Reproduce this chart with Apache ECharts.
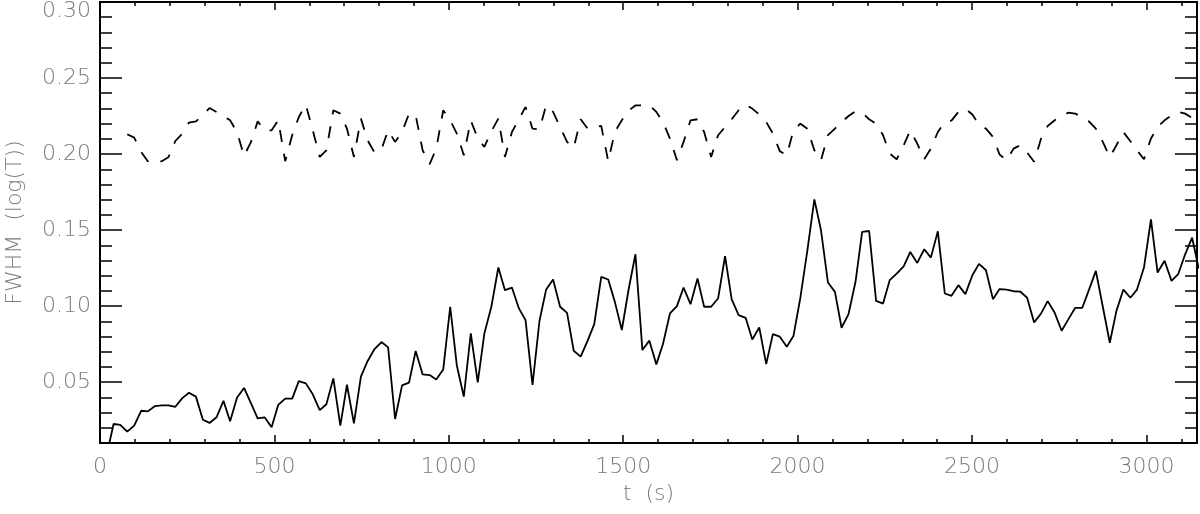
<!DOCTYPE html>
<html>
<head>
<meta charset="utf-8">
<title>FWHM (log(T))</title>
<script src="https://cdn.jsdelivr.net/npm/echarts@6/dist/echarts.min.js"></script>
<style>
  html, body { margin: 0; padding: 0; background: #fff; }
  #chart { width: 1200px; height: 514px; }
</style>
</head>
<body>
<div id="chart"></div>
<script>
// sample times (s)
const times = [
  19, 39, 58, 78, 98, 118, 137, 157, 177, 196,
  216, 236, 255, 275, 295, 314, 334, 354, 373, 393,
  413, 433, 452, 472, 492, 511, 531, 551, 570, 590,
  610, 630, 649, 669, 689, 708, 728, 748, 767, 787,
  807, 826, 846, 866, 886, 905, 925, 945, 964, 984,
  1004, 1023, 1043, 1063, 1083, 1102, 1122, 1142, 1161, 1181,
  1201, 1220, 1240, 1260, 1279, 1299, 1319, 1339, 1358, 1378,
  1398, 1417, 1437, 1457, 1476, 1496, 1516, 1535, 1555, 1575,
  1595, 1614, 1634, 1654, 1673, 1693, 1713, 1732, 1752, 1772,
  1792, 1811, 1831, 1851, 1870, 1890, 1910, 1929, 1949, 1969,
  1988, 2008, 2028, 2048, 2067, 2087, 2107, 2126, 2146, 2166,
  2185, 2205, 2225, 2245, 2264, 2284, 2304, 2323, 2343, 2363,
  2382, 2402, 2422, 2441, 2461, 2481, 2501, 2520, 2540, 2560,
  2579, 2599, 2619, 2638, 2658, 2678, 2698, 2717, 2737, 2757,
  2776, 2796, 2816, 2835, 2855, 2875, 2895, 2914, 2934, 2954,
  2973, 2993, 3013, 3032, 3052, 3072, 3091, 3111, 3131, 3150
];

// solid curve
const fwhmSolid = [
  0.002, 0.0225, 0.0219, 0.0175, 0.0214, 0.0312, 0.0308, 0.0342, 0.0347, 0.0347,
  0.0338, 0.0395, 0.043, 0.0405, 0.0253, 0.0232, 0.0269, 0.0377, 0.0243, 0.0399,
  0.0462, 0.036, 0.0262, 0.0269, 0.0204, 0.0351, 0.0392, 0.0392, 0.0507, 0.0492,
  0.042, 0.0316, 0.0355, 0.0525, 0.0214, 0.0483, 0.0229, 0.0536, 0.0638, 0.0718,
  0.0764, 0.0729, 0.0258, 0.0479, 0.0497, 0.0705, 0.0551, 0.0547, 0.0518, 0.0583,
  0.0996, 0.061, 0.0405, 0.0821, 0.0499, 0.0821, 0.0996, 0.1254, 0.1105, 0.1122,
  0.0985, 0.0908, 0.0482, 0.0904, 0.1109, 0.1175, 0.0996, 0.0956, 0.0707, 0.0668,
  0.0773, 0.0882, 0.1192, 0.1175, 0.1028, 0.0843, 0.1116, 0.1341, 0.0711, 0.0773,
  0.0617, 0.0751, 0.0952, 0.1, 0.1122, 0.1013, 0.1182, 0.0996, 0.0996, 0.105,
  0.1328, 0.1044, 0.0941, 0.0923, 0.0781, 0.086, 0.0619, 0.0816, 0.0799, 0.0733,
  0.0803, 0.1057, 0.1367, 0.1702, 0.1499, 0.1155, 0.1094, 0.0858, 0.0948, 0.116,
  0.1488, 0.1494, 0.1035, 0.1017, 0.1171, 0.1214, 0.1262, 0.1356, 0.1284, 0.1374,
  0.1319, 0.1492, 0.1083, 0.1068, 0.1138, 0.1079, 0.1203, 0.1278, 0.1236, 0.1046,
  0.1112, 0.1109, 0.1098, 0.1096, 0.1055, 0.0893, 0.0952, 0.1033, 0.0956, 0.0838,
  0.0913, 0.0989, 0.0989, 0.1105, 0.1232, 0.0996, 0.0759, 0.0969, 0.1109, 0.1055,
  0.1109, 0.1254, 0.1571, 0.1221, 0.1298, 0.1166, 0.121, 0.1341, 0.145, 0.1247
];

// dashed curve (starts a bit later)
const fwhmDashed = [
  null, null, null, 0.213, 0.2108, 0.2014, 0.1953, 0.1942, 0.1953, 0.1979,
  0.2086, 0.2135, 0.2207, 0.2215, 0.2255, 0.2303, 0.2277, 0.225, 0.2222, 0.2145,
  0.1988, 0.208, 0.2215, 0.2156, 0.2156, 0.2222, 0.1953, 0.2124, 0.2244, 0.2325,
  0.2156, 0.1981, 0.2025, 0.2288, 0.2266, 0.2167, 0.1981, 0.2233, 0.2091, 0.201,
  0.2032, 0.2156, 0.208, 0.2145, 0.2266, 0.2255, 0.2025, 0.1933, 0.2036, 0.2288,
  0.2222, 0.2135, 0.1992, 0.2222, 0.2102, 0.2047, 0.215, 0.2233, 0.1981, 0.2145,
  0.2229, 0.231, 0.2167, 0.2163, 0.232, 0.2277, 0.2178, 0.208, 0.204, 0.2229,
  0.2167, 0.2178, 0.2185, 0.1953, 0.2145, 0.2222, 0.2288, 0.232, 0.232, 0.232,
  0.2277, 0.2211, 0.2102, 0.1959, 0.208, 0.2222, 0.2229, 0.2145, 0.1981, 0.2124,
  0.2178, 0.2229, 0.2288, 0.2325, 0.2299, 0.226, 0.2211, 0.2135, 0.2019, 0.1992,
  0.2156, 0.22, 0.2167, 0.2025, 0.1959, 0.2124, 0.2167, 0.2211, 0.225, 0.2281,
  0.2272, 0.2229, 0.22, 0.2124, 0.2003, 0.1966, 0.2058, 0.2156, 0.2069, 0.1966,
  0.2036, 0.2145, 0.2211, 0.222, 0.2277, 0.2299, 0.226, 0.2194, 0.2167, 0.2113,
  0.1997, 0.1959, 0.2036, 0.2058, 0.201, 0.1949, 0.2102, 0.2185, 0.2222, 0.225,
  0.2272, 0.2266, 0.2244, 0.2215, 0.2167, 0.208, 0.1981, 0.2058, 0.2145, 0.2084,
  0.2025, 0.1966, 0.2102, 0.2178, 0.2222, 0.2255, 0.2277, 0.2266, 0.2237, 0.2222
];

// tick values
const xMajorTicks = [0, 500, 1000, 1500, 2000, 2500, 3000];
const xMinorTicks = [100, 200, 300, 400, 600, 700, 800, 900, 1100, 1200, 1300, 1400,
  1600, 1700, 1800, 1900, 2100, 2200, 2300, 2400, 2600, 2700, 2800, 2900, 3100];
const yMajorTicks = [0.05, 0.10, 0.15, 0.20, 0.25, 0.30];
const yMinorTicks = [0.02, 0.03, 0.04, 0.06, 0.07, 0.08, 0.09, 0.11, 0.12, 0.13, 0.14,
  0.16, 0.17, 0.18, 0.19, 0.21, 0.22, 0.23, 0.24, 0.26, 0.27, 0.28, 0.29];

const labelFont = {
  fontFamily: "DejaVu Sans",
  fontSize: 22,
  fontWeight: 200,
  color: "#7a7a7a"
};

function xAx(pos, ticks, len, labels) {
  return {
    type: "value",
    position: pos,
    min: 0,
    max: 3145,
    splitLine: { show: false },
    axisLine: { onZero: false, lineStyle: { color: "#000", width: 1.8 } },
    axisTick: { inside: true, length: len, customValues: ticks, lineStyle: { color: "#000", width: 1.5 } },
    axisLabel: labels
      ? Object.assign({
          customValues: ticks,
          margin: 13,
          formatter: function (v) { return String(v); }
        }, labelFont)
      : { show: false }
  };
}

function yAx(pos, ticks, len, labels) {
  return {
    type: "value",
    position: pos,
    min: 0.01,
    max: 0.30,
    splitLine: { show: false },
    axisLine: { onZero: false, lineStyle: { color: "#000", width: 1.8 } },
    axisTick: { inside: true, length: len, customValues: ticks, lineStyle: { color: "#000", width: 1.5 } },
    axisLabel: labels
      ? Object.assign({
          customValues: ticks,
          margin: 9,
          formatter: function (v) {
            var s = v.toFixed(2);
            return v > 0.295 ? "{top|" + s + "}" : s;
          },
          rich: { top: Object.assign({ padding: [18, 0, 0, 0] }, labelFont) }
        }, labelFont)
      : { show: false }
  };
}

const bottomX = xAx("bottom", xMajorTicks, 8, true);
bottomX.name = "t  (s)";
bottomX.nameLocation = "middle";
bottomX.nameGap = 38;
bottomX.nameTextStyle = labelFont;

const leftY = yAx("left", yMajorTicks, 22, true);
leftY.name = "FWHM  (log(T))";
leftY.nameLocation = "middle";
leftY.nameGap = 74;
leftY.nameTextStyle = labelFont;

const chart = echarts.init(document.getElementById("chart"));
chart.setOption({
  animation: false,
  backgroundColor: "#fff",
  grid: { left: 100, right: 3, top: 2, bottom: 71, containLabel: false, outerBoundsMode: "none" },
  xAxis: [
    bottomX,
    xAx("bottom", xMinorTicks, 4, false),
    xAx("top", xMajorTicks, 8, false),
    xAx("top", xMinorTicks, 4, false)
  ],
  yAxis: [
    leftY,
    yAx("left", yMinorTicks, 12, false),
    yAx("right", yMajorTicks, 22, false),
    yAx("right", yMinorTicks, 12, false)
  ],
  series: [
    {
      type: "line",
      symbol: "none",
      data: times.map((t, i) => [t, fwhmSolid[i]]),
      lineStyle: { color: "#000", width: 1.8 }
    },
    {
      type: "line",
      symbol: "none",
      connectNulls: false,
      data: times.map((t, i) => [t, fwhmDashed[i]]),
      lineStyle: { color: "#000", width: 1.8, type: [12, 12] }
    }
  ]
});
</script>
</body>
</html>
